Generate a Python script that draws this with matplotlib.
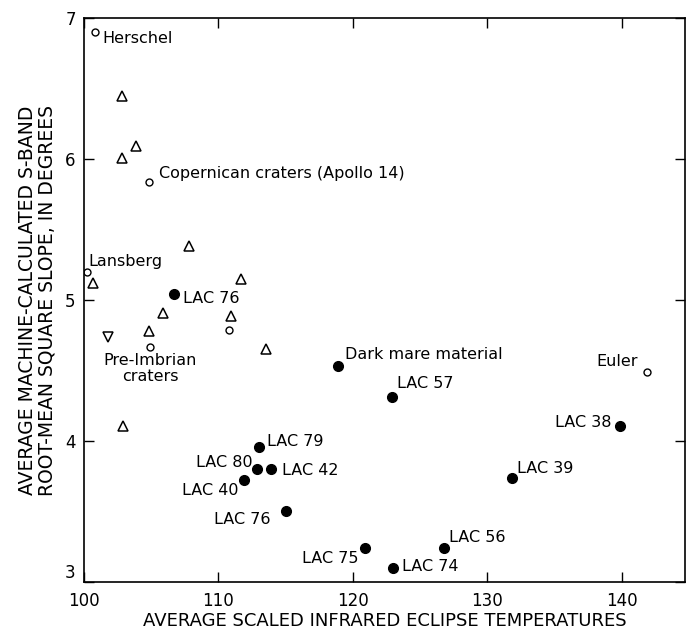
import matplotlib
matplotlib.use("Agg")
import matplotlib.pyplot as plt

plt.rcParams['font.family'] = ['DejaVu Sans']

# Open circles (named craters)
open_x = [100.8, 104.8, 100.2, 104.9, 110.8, 141.9]
open_y = [6.90, 5.84, 5.20, 4.67, 4.79, 4.49]

# Upward triangles
tri_x = [102.8, 102.8, 103.9, 107.8, 100.7, 111.7, 105.9, 110.9, 104.8, 113.5, 102.9]
tri_y = [6.45, 6.01, 6.09, 5.38, 5.12, 5.15, 4.91, 4.89, 4.78, 4.65, 4.11]

# Downward triangle
dtri_x = [101.8]
dtri_y = [4.74]

# Filled circles (LAC sites, dark mare)
fill_x = [106.7, 118.9, 122.9, 139.9, 131.8, 126.8, 123.0, 120.9, 113.0, 112.9, 113.9, 111.9, 115.0]
fill_y = [5.04, 4.53, 4.31, 4.11, 3.74, 3.24, 3.10, 3.24, 3.96, 3.80, 3.80, 3.72, 3.50]

# Labels: (text, x, y, dx_px, dy_px, ha)
labels = [
    ("Herschel", 100.8, 6.90, 8, -6, "left"),
    ("Copernican craters (Apollo 14)", 104.8, 5.84, 10, 8, "left"),
    ("Lansberg", 100.2, 5.20, 2, 10, "left"),
    ("Pre-Imbrian\ncraters", 104.9, 4.67, 0, -6, "center"),
    ("Euler", 141.9, 4.49, -9, 10, "right"),
    ("LAC 76", 106.7, 5.04, 9, -4, "left"),
    ("Dark mare material", 118.9, 4.53, 7, 12, "left"),
    ("LAC 57", 122.9, 4.31, 5, 14, "left"),
    ("LAC 38", 139.9, 4.11, -9, 3, "right"),
    ("LAC 39", 131.8, 3.74, 5, 9, "left"),
    ("LAC 56", 126.8, 3.24, 5, 11, "left"),
    ("LAC 74", 123.0, 3.10, 9, 1, "left"),
    ("LAC 75", 120.9, 3.24, -7, -10, "right"),
    ("LAC 79", 113.0, 3.96, 8, 5, "left"),
    ("LAC 80", 112.9, 3.80, -5, 7, "right"),
    ("LAC 42", 113.9, 3.80, 11, -1, "left"),
    ("LAC 40", 111.9, 3.72, -6, -10, "right"),
    ("LAC 76", 115.0, 3.50, -15, -8, "right"),
]

x_ticks = [100, 110, 120, 130, 140]
y_ticks = [3, 4, 5, 6, 7]

fig = plt.figure(figsize=(6.95, 6.35), dpi=100)
ax = fig.add_axes([0.1209, 0.0835, 0.8647, 0.888])

ax.plot(open_x, open_y, linestyle='none', marker='o', markersize=5,
        markerfacecolor='white', markeredgecolor='black', markeredgewidth=1.0)
ax.plot(tri_x, tri_y, linestyle='none', marker='^', markersize=7.5,
        markerfacecolor='white', markeredgecolor='black', markeredgewidth=1.1)
ax.plot(dtri_x, dtri_y, linestyle='none', marker='v', markersize=7.5,
        markerfacecolor='white', markeredgecolor='black', markeredgewidth=1.1)
ax.plot(fill_x, fill_y, linestyle='none', marker='o', markersize=7,
        markerfacecolor='black', markeredgecolor='black')

for text, x, y, dx, dy, ha in labels:
    ax.annotate(text, (x, y), xytext=(dx * 0.72, dy * 0.72), textcoords='offset points',
                ha=ha, va='top' if '\n' in text else 'center', fontsize=11.5,
                linespacing=1.15)

ax.set_xlim(100, 144.7)
ax.set_ylim(3, 7)
ax.set_xticks(x_ticks)
ax.set_yticks(y_ticks)
ax.tick_params(direction='in', length=7, width=1.0, top=True, right=True,
               labelsize=12)
ax.tick_params(axis='x', pad=7)
ax.tick_params(axis='y', pad=6)
ax.get_yticklabels()[0].set_verticalalignment('bottom')
for s in ax.spines.values():
    s.set_linewidth(1.2)

ax.set_xlabel("AVERAGE SCALED INFRARED ECLIPSE TEMPERATURES", fontsize=13, labelpad=2)
ax.set_ylabel("AVERAGE MACHINE-CALCULATED S-BAND\nROOT-MEAN SQUARE SLOPE, IN DEGREES",
              fontsize=13.5, labelpad=6, linespacing=1.05)

fig.savefig("out.png", dpi=100)
